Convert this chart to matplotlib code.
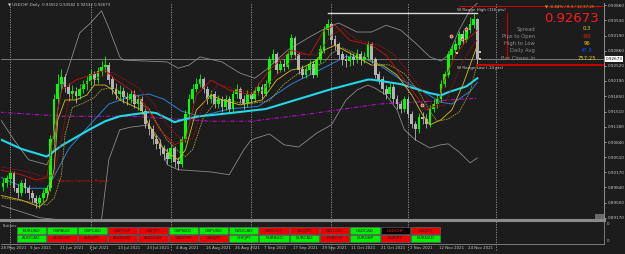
import numpy as np
import matplotlib
matplotlib.use('Agg')
import matplotlib.pyplot as plt
import matplotlib.transforms as mtrans

W, H = 625, 254
BG = '#1c1c1c'

# ---- daily OHLC, bar 0 = 28 May 2021
opn = [0.8985, 0.8993, 0.9003, 0.9014, 0.8982, 0.8971, 0.8993, 0.8982, 0.8971, 0.8960,
       0.8949, 0.8960, 0.8971, 0.8982, 0.9091, 0.9179, 0.9212, 0.9227, 0.9205, 0.9190,
       0.9196, 0.9185, 0.9201, 0.9212, 0.9218, 0.9233, 0.9222, 0.9240, 0.9249, 0.9253,
       0.9222, 0.9201, 0.9190, 0.9196, 0.9183, 0.9179, 0.9190, 0.9168, 0.9179, 0.9152,
       0.9124, 0.9113, 0.9091, 0.9080, 0.9069, 0.9058, 0.9047, 0.9069, 0.9041, 0.9036,
       0.9091, 0.9146, 0.9179, 0.9201, 0.9212, 0.9222, 0.9201, 0.9179, 0.9190, 0.9168,
       0.9179, 0.9161, 0.9179, 0.9157, 0.9190, 0.9201, 0.9179, 0.9168, 0.9190, 0.9179,
       0.9196, 0.9205, 0.9190, 0.9212, 0.9266, 0.9277, 0.9244, 0.9255, 0.9250, 0.9277,
       0.9314, 0.9277, 0.9244, 0.9233, 0.9244, 0.9255, 0.9233, 0.9266, 0.9288, 0.9332,
       0.9343, 0.9310, 0.9299, 0.9277, 0.9266, 0.9262, 0.9271, 0.9266, 0.9277, 0.9266,
       0.9271, 0.9299, 0.9266, 0.9233, 0.9222, 0.9201, 0.9190, 0.9205, 0.9179, 0.9168,
       0.9157, 0.9179, 0.9146, 0.9124, 0.9113, 0.9139, 0.9135, 0.9124, 0.9157, 0.9168,
       0.9179, 0.9212, 0.9233, 0.9277, 0.9288, 0.9299, 0.9321, 0.9310, 0.9332, 0.9343,
       0.93552]
high = [0.9005, 0.9012, 0.9022, 0.9020, 0.8992, 0.9001, 0.9004, 0.8990, 0.8978, 0.8968,
        0.8967, 0.8980, 0.8990, 0.9100, 0.9190, 0.9235, 0.9245, 0.9235, 0.9215, 0.9210,
        0.9205, 0.9212, 0.9222, 0.9230, 0.9245, 0.9240, 0.9250, 0.9262, 0.9273, 0.9260,
        0.9230, 0.9215, 0.9210, 0.9205, 0.9195, 0.9200, 0.9198, 0.9188, 0.9185, 0.9160,
        0.9135, 0.9122, 0.9100, 0.9090, 0.9078, 0.9070, 0.9078, 0.9075, 0.9052, 0.9098,
        0.9155, 0.9190, 0.9212, 0.9225, 0.9235, 0.9228, 0.9208, 0.9200, 0.9196, 0.9188,
        0.9185, 0.9188, 0.9185, 0.9198, 0.9212, 0.9206, 0.9188, 0.9198, 0.9195, 0.9205,
        0.9215, 0.9212, 0.9222, 0.9275, 0.9290, 0.9282, 0.9265, 0.9268, 0.9285, 0.9322,
        0.9318, 0.9282, 0.9255, 0.9252, 0.9265, 0.9262, 0.9272, 0.9298, 0.9340, 0.9355,
        0.9350, 0.9320, 0.9305, 0.9285, 0.9278, 0.9282, 0.9280, 0.9290, 0.9284, 0.9282,
        0.9308, 0.9305, 0.9272, 0.9240, 0.9230, 0.9210, 0.9215, 0.9212, 0.9188, 0.9176,
        0.9185, 0.9185, 0.9152, 0.9130, 0.9148, 0.9150, 0.9145, 0.9165, 0.9178, 0.9190,
        0.9220, 0.9242, 0.9285, 0.9298, 0.9310, 0.9330, 0.9332, 0.9340, 0.9360, 0.9368,
        0.93582]
low = [0.8975, 0.8985, 0.8990, 0.8975, 0.8960, 0.8965, 0.8972, 0.8958, 0.8950, 0.8938,
       0.8938, 0.8952, 0.8962, 0.8975, 0.9085, 0.9170, 0.9200, 0.9195, 0.9175, 0.9178,
       0.9170, 0.9178, 0.9192, 0.9200, 0.9210, 0.9212, 0.9215, 0.9230, 0.9238, 0.9212,
       0.9190, 0.9180, 0.9178, 0.9170, 0.9165, 0.9170, 0.9160, 0.9155, 0.9145, 0.9115,
       0.9100, 0.9080, 0.9068, 0.9055, 0.9045, 0.9035, 0.9040, 0.9030, 0.9022, 0.9030,
       0.9085, 0.9140, 0.9170, 0.9195, 0.9205, 0.9192, 0.9168, 0.9170, 0.9160, 0.9160,
       0.9150, 0.9155, 0.9148, 0.9150, 0.9182, 0.9170, 0.9158, 0.9162, 0.9170, 0.9172,
       0.9188, 0.9180, 0.9185, 0.9205, 0.9258, 0.9235, 0.9238, 0.9240, 0.9245, 0.9270,
       0.9268, 0.9235, 0.9225, 0.9225, 0.9235, 0.9225, 0.9228, 0.9258, 0.9280, 0.9320,
       0.9300, 0.9288, 0.9268, 0.9255, 0.9250, 0.9252, 0.9255, 0.9258, 0.9255, 0.9258,
       0.9265, 0.9258, 0.9225, 0.9212, 0.9190, 0.9180, 0.9182, 0.9170, 0.9158, 0.9148,
       0.9150, 0.9138, 0.9115, 0.9088, 0.9105, 0.9125, 0.9115, 0.9118, 0.9150, 0.9160,
       0.9172, 0.9205, 0.9228, 0.9268, 0.9280, 0.9290, 0.9300, 0.9305, 0.9325, 0.9335,
       0.92532]
close = [0.8993, 0.9003, 0.9014, 0.8982, 0.8971, 0.8993, 0.8982, 0.8971, 0.8960, 0.8949,
         0.8960, 0.8971, 0.8982, 0.9091, 0.9179, 0.9212, 0.9227, 0.9205, 0.9190, 0.9196,
         0.9185, 0.9201, 0.9212, 0.9218, 0.9233, 0.9222, 0.9240, 0.9249, 0.9253, 0.9222,
         0.9201, 0.9190, 0.9196, 0.9183, 0.9179, 0.9190, 0.9168, 0.9179, 0.9152, 0.9124,
         0.9113, 0.9091, 0.9080, 0.9069, 0.9058, 0.9047, 0.9069, 0.9041, 0.9036, 0.9091,
         0.9146, 0.9179, 0.9201, 0.9212, 0.9222, 0.9201, 0.9179, 0.9190, 0.9168, 0.9179,
         0.9161, 0.9179, 0.9157, 0.9190, 0.9201, 0.9179, 0.9168, 0.9190, 0.9179, 0.9196,
         0.9205, 0.9190, 0.9212, 0.9266, 0.9277, 0.9244, 0.9255, 0.9250, 0.9277, 0.9314,
         0.9277, 0.9244, 0.9233, 0.9244, 0.9255, 0.9233, 0.9266, 0.9288, 0.9332, 0.9343,
         0.9310, 0.9299, 0.9277, 0.9266, 0.9262, 0.9271, 0.9266, 0.9277, 0.9266, 0.9271,
         0.9299, 0.9266, 0.9233, 0.9222, 0.9201, 0.9190, 0.9205, 0.9179, 0.9168, 0.9157,
         0.9179, 0.9146, 0.9124, 0.9113, 0.9139, 0.9135, 0.9124, 0.9157, 0.9168, 0.9179,
         0.9212, 0.9233, 0.9277, 0.9288, 0.9299, 0.9321, 0.9310, 0.9332, 0.9343, 0.9354,
         0.92673]

# ---- indicator lines: (bar, price)
cyan_x = [-1, 5, 12, 16, 24, 28, 32, 40, 42, 47, 50, 54, 60, 72, 81, 90, 100, 101, 109, 117, 120, 122, 127, 130]
cyan_y = [0.9091, 0.9069, 0.9052, 0.9076, 0.9113, 0.9130, 0.9141, 0.9150, 0.9148, 0.9128, 0.9135, 0.9141,
          0.9146, 0.9157, 0.9179, 0.9201, 0.9222, 0.9222, 0.9212, 0.9192, 0.9187, 0.9194, 0.9207, 0.9225]
blue_x = [-1, 3, 7, 12, 14, 18, 24, 29, 35, 40, 44, 49, 54, 62, 70, 79, 87, 94, 98, 103, 109, 114, 120, 123, 128, 130]
blue_y = [0.9008, 0.8993, 0.8982, 0.8982, 0.9008, 0.9069, 0.9124, 0.9168, 0.9185, 0.9190, 0.9179, 0.9152,
          0.9141, 0.9157, 0.9163, 0.9212, 0.9244, 0.9273, 0.9271, 0.9255, 0.9222, 0.9201, 0.9172, 0.9168,
          0.9196, 0.9216]
purple_x = [-1, 16, 35, 57, 68, 84, 103, 117, 130]
purple_y = [0.9150, 0.9141, 0.9141, 0.9130, 0.9130, 0.9146, 0.9168, 0.9174, 0.9181]
bbup_x = [-1, 3, 7, 12, 14, 15, 16, 21, 24, 27, 29, 32, 33, 45, 48, 51, 54, 60, 65, 69, 72, 78, 84, 89,
          92, 97, 101, 105, 109, 113, 117, 120, 122, 125, 128, 130]
bbup_y = [0.9138, 0.9089, 0.9045, 0.9034, 0.9067, 0.9155, 0.9199, 0.9325, 0.9347, 0.9374, 0.9336, 0.9272,
          0.9265, 0.9261, 0.9247, 0.9254, 0.9272, 0.9261, 0.9236, 0.9225, 0.9243, 0.9287, 0.9316, 0.9338,
          0.9347, 0.9327, 0.9327, 0.9342, 0.9331, 0.9303, 0.9272, 0.9263, 0.9276, 0.9331, 0.9376, 0.9391]
bblo_x = [-1, 5, 10, 16, 24, 27, 29, 32, 35, 40, 43, 45, 48, 57, 62, 66, 68, 73, 77, 81, 86, 90,
          94, 97, 100, 102, 105, 108, 110, 113, 117, 120, 122, 125, 128, 130]
bblo_y = [0.8945, 0.8930, 0.8917, 0.8912, 0.8901, 0.8912, 0.9045, 0.9111, 0.9117, 0.9122, 0.9089, 0.9034,
          0.9023, 0.9018, 0.9012, 0.9067, 0.9089, 0.9102, 0.9078, 0.9073, 0.9104, 0.9122, 0.9177, 0.9199,
          0.9210, 0.9203, 0.9188, 0.9155, 0.9111, 0.9089, 0.9071, 0.9078, 0.9080, 0.9062, 0.9038, 0.9049]
yel_x = [-1, 5, 10, 12, 14, 15, 17, 20, 23, 25, 28, 30, 32, 35, 38, 40, 43, 46, 48, 50, 53, 57, 60,
         65, 71, 75, 79, 82, 86, 88, 91, 96, 101, 104, 108, 112, 115, 117, 120, 123, 126, 130]
yel_y = [0.8967, 0.8956, 0.8941, 0.8956, 0.9023, 0.9133, 0.9177, 0.9177, 0.9188, 0.9210, 0.9210, 0.9199,
         0.9177, 0.9166, 0.9155, 0.9122, 0.9078, 0.9056, 0.9045, 0.9067, 0.9155, 0.9188, 0.9177, 0.9166,
         0.9177, 0.9221, 0.9243, 0.9248, 0.9265, 0.9287, 0.9298, 0.9276, 0.9254, 0.9254, 0.9232, 0.9188,
         0.9144, 0.9122, 0.9133, 0.9155, 0.9210, 0.9298]
yel2_x = [-1, 7, 12, 14, 16, 17, 19, 22, 25, 27, 30, 32, 34, 37, 40, 42, 45, 48, 50, 52, 55, 59, 62,
          67, 73, 77, 81, 84, 88, 90, 93, 98, 103, 106, 110, 114, 117, 119, 122, 125, 128, 130]
yel2_y = [0.8962, 0.8952, 0.8945, 0.8960, 0.9010, 0.9100, 0.9160, 0.9170, 0.9182, 0.9200, 0.9205, 0.9196,
          0.9180, 0.9170, 0.9158, 0.9128, 0.9088, 0.9064, 0.9052, 0.9068, 0.9140, 0.9180, 0.9175, 0.9168,
          0.9175, 0.9212, 0.9236, 0.9244, 0.9260, 0.9280, 0.9292, 0.9275, 0.9256, 0.9254, 0.9235, 0.9195,
          0.9152, 0.9130, 0.9135, 0.9150, 0.9195, 0.9260]
red_x = [-1, 5, 9, 12, 14, 16, 20, 24, 28, 31, 35, 39, 43, 47, 50, 53, 57, 62, 68, 73, 79, 84, 88,
         91, 95, 101, 105, 109, 113, 116, 119, 121, 124, 127, 130]
red_y = [0.9023, 0.9012, 0.9001, 0.9005, 0.9111, 0.9199, 0.9221, 0.9232, 0.9243, 0.9221, 0.9199, 0.9166,
         0.9111, 0.9078, 0.9089, 0.9188, 0.9221, 0.9199, 0.9188, 0.9243, 0.9287, 0.9276, 0.9331, 0.9342,
         0.9309, 0.9298, 0.9276, 0.9232, 0.9188, 0.9155, 0.9166, 0.9221, 0.9276, 0.9309, 0.9331]
red2_x = [-1, 7, 11, 14, 16, 18, 22, 26, 30, 33, 37, 41, 45, 49, 52, 55, 59, 64, 70, 75, 81, 86, 90,
          93, 97, 103, 107, 111, 115, 118, 121, 123, 126, 129, 130]
red2_y = [0.9030, 0.9018, 0.9008, 0.9010, 0.9090, 0.9180, 0.9212, 0.9226, 0.9238, 0.9224, 0.9204, 0.9172,
          0.9122, 0.9088, 0.9092, 0.9170, 0.9212, 0.9200, 0.9190, 0.9232, 0.9278, 0.9276, 0.9320, 0.9335,
          0.9310, 0.9298, 0.9278, 0.9240, 0.9196, 0.9162, 0.9165, 0.9205, 0.9262, 0.9300, 0.9310]

# small signal markers (bar, price)
dot_x = [114.7, 122.9, 125.9, 126.8]
dot_y = [0.91659, 0.93189, 0.93116, 0.93337]
sq_x = [124.4, 130.7, 130.7]
sq_y = [0.92807, 0.92829, 0.92674]

dates = ['28 May 2021', '9 Jun 2021', '21 Jun 2021', '1 Jul 2021', '13 Jul 2021', '23 Jul 2021',
         '4 Aug 2021', '16 Aug 2021', '26 Aug 2021', '7 Sep 2021', '17 Sep 2021', '29 Sep 2021',
         '11 Oct 2021', '21 Oct 2021', '2 Nov 2021', '12 Nov 2021', '24 Nov 2021']
date_bars = [0, 8, 16, 24, 32, 40, 48, 56, 64, 72, 80, 88, 96, 104, 112, 120, 128]
month_bars = [2, 24, 46, 68, 90, 111, 135]
yticks = [0.93860, 0.93530, 0.93190, 0.92860, 0.92520, 0.92190, 0.91850, 0.91510,
          0.91180, 0.90840, 0.90510, 0.90170, 0.89840, 0.89500, 0.89170]

row1 = ['EURUSD', 'GBPAUD', 'GBPCAD', 'GBPCHF', 'GBPJPY', 'GBPNZD', 'GBPUSD',
        'NZDCAD', 'NZDCHF', 'NZDJPY', 'NZDUSD', 'USDCAD', 'USDCHF', 'USDJPY']
row1_up = [1, 1, 1, 0, 0, 1, 1, 1, 0, 0, 0, 1, -1, 0]
row2 = ['AUDCAD', 'AUDCHF', 'AUDJPY', 'AUDNZD', 'AUDUSD', 'CADCHF', 'CADJPY',
        'CHFJPY', 'EURAUD', 'EURCAD', 'EURCHF', 'EURGBP', 'EURJPY', 'EURNZD']
row2_up = [1, 0, 0, 0, 0, 0, 0, 1, 1, 1, 0, 1, 0, 1]

last_price = 0.92673
range_high = 0.9369
range_low = 0.9254

fig = plt.figure(figsize=(W / 100, H / 100), dpi=100, facecolor=BG)


def px_axes(x0, y0, x1, y1):
    return fig.add_axes([x0 / W, 1 - y1 / H, (x1 - x0) / W, (y1 - y0) / H])


ax = px_axes(1, 3, 604, 220)
ax.set_facecolor(BG)
ax.set_xlim(-0.55, 164.7)
ax.set_ylim(0.89119, 0.93911)

# candles
opn, high, low, close = map(np.array, (opn, high, low, close))
bars = np.arange(len(close))
up = close >= opn
col = np.where(up, '#00ff00', '#b4b4b4')
ax.vlines(bars, low, high, colors=col, lw=0.6, zorder=4)
ax.bar(bars, np.abs(close - opn) + 0.00008, bottom=np.minimum(opn, close), width=0.75,
       color=col, lw=0, zorder=5)

# indicators
ax.plot(bbup_x, bbup_y, color='#8a8a8a', lw=0.6, zorder=3)
ax.plot(bblo_x, bblo_y, color='#8a8a8a', lw=0.6, zorder=3)
ax.plot(purple_x, purple_y, color='#b010c0', lw=0.8, ls=(0, (4, 1.5, 1, 1.5)), zorder=3)
ax.plot(blue_x, blue_y, color='#2f7fd0', lw=0.7, zorder=3)
ax.plot(cyan_x, cyan_y, color='#22d8e8', lw=1.5, zorder=6)
ax.plot(yel_x, yel_y, color='#d8c020', lw=0.6, zorder=6)
ax.plot(yel2_x, yel2_y, color='#a89a30', lw=0.6, ls=(0, (2, 1)), zorder=6)
ax.plot(red_x, red_y, color='#d01010', lw=0.6, zorder=6)
ax.plot(red2_x, red2_y, color='#a01010', lw=0.6, ls=(0, (2, 1)), zorder=6)
ax.scatter(dot_x, dot_y, s=5, c='#ff3030', edgecolors='white', linewidths=0.4, zorder=9)
ax.scatter(sq_x, sq_y, s=4, c='#e8c090', marker='s', linewidths=0, zorder=9)

# separators and lines
for m in month_bars:
    ax.axvline(m, color='#9a9a9a', lw=0.6, ls=(0, (1.5, 1.5)), zorder=2)
ax.axhline(last_price, color='#7a7a7a', lw=0.7, zorder=2)
ax.plot([89, 130], [range_high, range_high], color='#d8d8d8', lw=1.0, zorder=7)
ax.plot([125, 164.7], [0.9384, 0.9384], color='#cc0000', lw=0.8, zorder=7)
ax.plot([130, 164.7], [range_low, range_low], color='#cc0000', lw=1.4, zorder=7)
ax.plot([138, 138], [range_high, last_price], color='#cc0000', lw=0.8, zorder=7)
ax.text(124.5, range_high + 0.0002, 'W Range High (116 pts)', color='#c8c8c8', fontsize=3, va='bottom', zorder=8)
ax.text(124.5, range_low - 0.0002, 'W Range Low (-14 pts)', color='#c8c8c8', fontsize=3, va='top', zorder=8)
ax.text(5, 0.8999, '22:30 today', color='#701010', fontsize=3, va='center')
ax.text(14.5, 0.8999, 'Treasury Currency Report', color='#d01010', fontsize=3, va='center')

# info block
tf = ax.transAxes
fig.text(545 / W, 1 - 6.5 / H, '\u25bc -0.84% / 0.3 / 12:37:25', color='#e0a020', fontsize=2.8, va='center')
fig.text(544 / W, 1 - 18 / H, '0.92673', color='#ff1a1a', fontsize=9.5, va='center')
info_lbl = ['Spread', 'Pips to Open', 'High to Low', 'Daily Avg', 'Bar Closes In']
info_val = ['0.3', '-80', '96', '47.8', '757:25']
info_col = ['#e8d020', '#ff2020', '#e8d020', '#2040ff', '#e8d020']
for k in range(5):
    yy = 1 - (29 + 7.3 * k) / H
    fig.text(535 / W, yy, info_lbl[k], color='#8c8c8c', fontsize=3.8, ha='right', va='center')
    fig.text(587 / W, yy, info_val[k], color=info_col[k], fontsize=3.8, ha='center', va='center')

fig.text(8 / W, 1 - 5 / H, '\u25bc USDCHF,Daily  0.93552 0.93582 0.92532 0.92673', color='#c8c8c8',
         fontsize=2.8, va='center')

# axes styling
ax.yaxis.tick_right()
ax.set_yticks(yticks)
ax.set_yticklabels(['%.5f' % v for v in yticks])
ax.tick_params(axis='y', colors='#c8c8c8', labelsize=3, length=1.5, width=0.5, pad=1)
ax.set_xticks([])
for s in ['top', 'left', 'bottom']:
    ax.spines[s].set_visible(False)
ax.spines['right'].set_color('#a0a0a0')
ax.spines['right'].set_linewidth(0.6)
ax.text(1.003, (last_price - 0.89119) / (0.93911 - 0.89119), '%.5f' % last_price, transform=tf,
        fontsize=3, color='black', va='center', ha='left',
        bbox=dict(boxstyle='square,pad=0.15', fc='white', ec='none'))
fig.add_artist(plt.Rectangle((595 / W, 1 - 219 / H), 9 / W, 5 / H, fc='#6a6a6a', ec='none'))

# buttons panel
bx = px_axes(1, 222, 604, 244)
bx.set_facecolor(BG)
bx.set_xlim(1, 604)
bx.set_ylim(244, 222)
bx.axis('off')
fig.add_artist(plt.Line2D([1 / W, 604 / W], [1 - 220 / H, 1 - 220 / H], color='#8a8a8a', lw=2.2))
fig.add_artist(plt.Line2D([1 / W, 604 / W], [1 - 243.5 / H, 1 - 243.5 / H], color='#8a8a8a', lw=0.6))
fig.add_artist(plt.Line2D([604 / W, 604 / W], [1 - 244 / H, 1 - 221 / H], color='#8a8a8a', lw=0.6))
bx.text(3, 226, 'Buttons', color='#b0b0b0', fontsize=2.6, va='center')
for rowi, (names, states) in enumerate([(row1, row1_up), (row2, row2_up)]):
    y0 = 227 + rowi * 7.6
    for k, (nm, st) in enumerate(zip(names, states)):
        x0 = 17 + k * 30.3
        fc = {1: '#00ee00', 0: '#ee0000', -1: '#000000'}[st]
        tc = '#ff2020' if st == -1 else '#202020'
        bx.add_patch(plt.Rectangle((x0, y0), 29.3, 7, fc=fc, ec='#707070', lw=0.4))
        bx.text(x0 + 14.6, y0 + 3.6, nm, color=tc, fontsize=3.1, ha='center', va='center')
fig.text(607 / W, 1 - 225 / H, '0', color='#c8c8c8', fontsize=2.8)
fig.text(607 / W, 1 - 242 / H, '0', color='#c8c8c8', fontsize=2.8)

# date labels
blend = mtrans.blended_transform_factory(ax.transData, fig.transFigure)
for d, b in zip(dates, date_bars):
    ax.text(b - 0.5, 1 - 248 / H, d, transform=blend, fontsize=2.8, color='#c8c8c8', va='center',
            clip_on=False)
for m in month_bars:
    ax.plot([m, m], [1 - 250 / H, 1 - 220 / H], transform=blend, color='#9a9a9a', lw=0.6,
            ls=(0, (1.5, 1.5)), clip_on=False)

fig.savefig('out.png', dpi=100, facecolor=BG)
